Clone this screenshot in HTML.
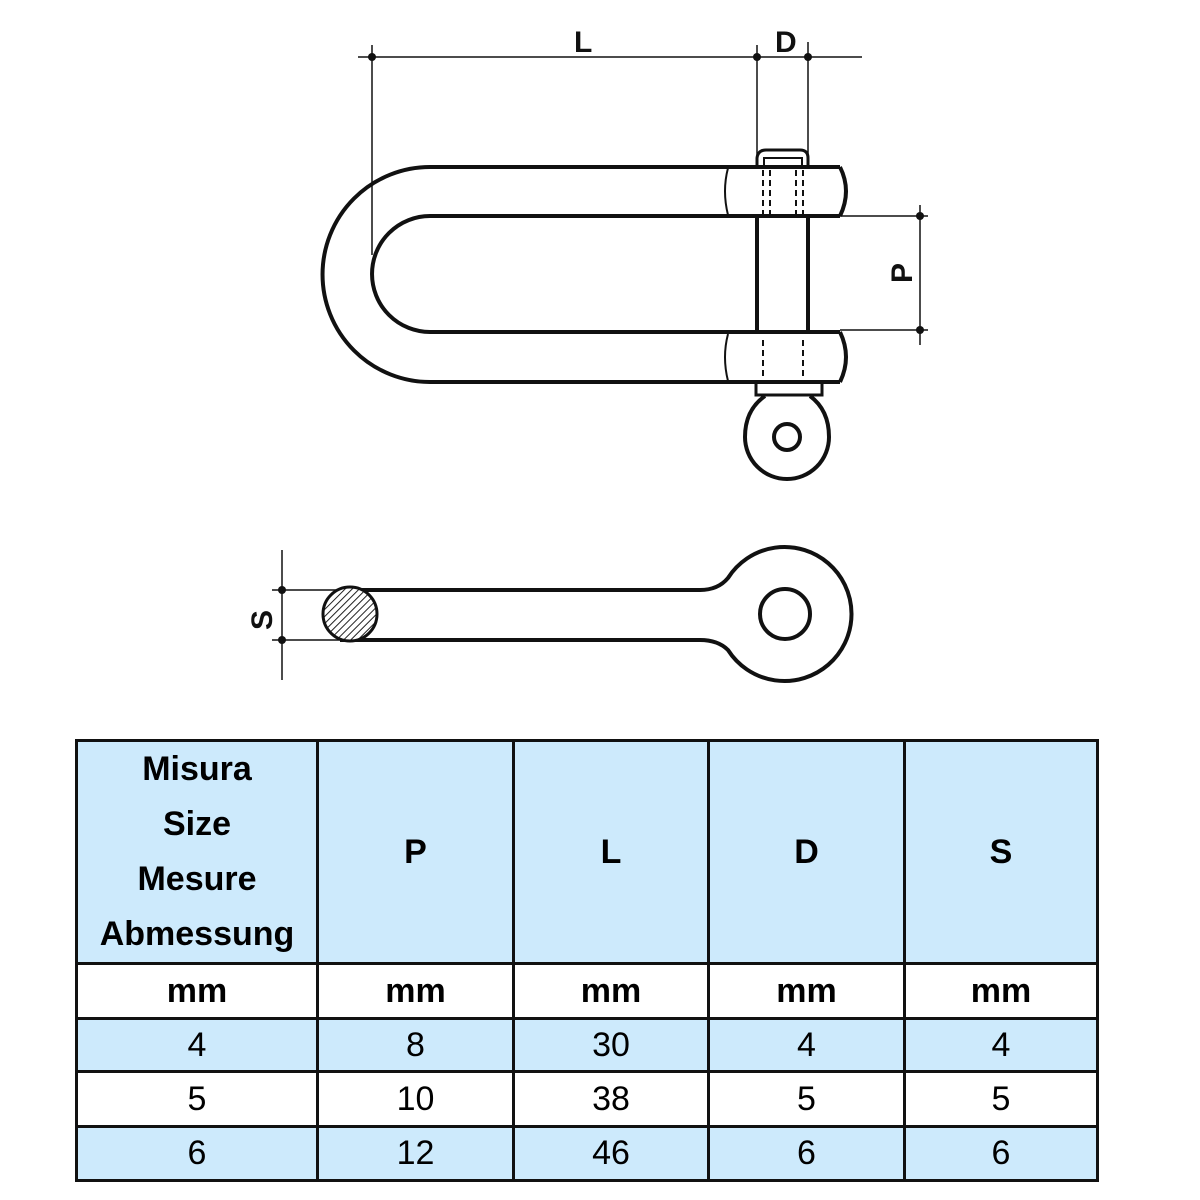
<!DOCTYPE html>
<html><head><style>
body{margin:0;background:#fff;width:1200px;height:1200px;position:relative;font-family:"Liberation Sans",sans-serif;}
table{position:absolute;left:75px;top:739px;border-collapse:collapse;width:1021px;table-layout:fixed;}
td{border:3px solid #111;text-align:center;font-size:34px;padding:0;}
.b{background:#cdeafc;}
.h td{font-weight:bold;}
</style></head><body>
<svg width="1200" height="720" style="position:absolute;left:0;top:0" xmlns="http://www.w3.org/2000/svg">
<defs><pattern id="hatch" width="5" height="5" patternUnits="userSpaceOnUse" patternTransform="rotate(45)"><rect width="5" height="5" fill="#fff"/><line x1="0" y1="0" x2="0" y2="5" stroke="#222" stroke-width="2"/></pattern></defs>
<g fill="none" stroke="#111" stroke-width="4">
<path d="M840 167 L430 167 A107 107 0 0 0 430 382 L840 382"/>
<path d="M840 216 L430 216 A58 58 0 0 0 430 332 L840 332"/>
<path d="M840 167 Q852 191 840 216"/>
<path d="M840 332 Q852 357 840 382"/>
<path d="M728 168 Q722 191 728 215 M728 334 Q722 357 728 381" stroke-width="2"/>
<path d="M757 216 L757 332 M808 216 L808 332"/>
<path d="M757 167 L757 158 Q758 150 766 150 L800 150 Q808 150 808 158 L808 167" stroke-width="3"/>
<path d="M764 167 L764 158 L802 158 L802 167" stroke-width="2"/>
<path d="M763 170 L763 214 M770 170 L770 214 M796 170 L796 214 M803 170 L803 214 M763 340 L763 380 M803 340 L803 380" stroke-width="2" stroke-dasharray="6 4"/>
<path d="M756 382 L756 395 L822 395 L822 382" stroke-width="3"/>
<path d="M765 396 Q745 410 745 437 A42 42 0 0 0 829 437 Q829 410 810 396"/>
<circle cx="787" cy="437" r="13"/>
</g>
<g stroke="#111" stroke-width="1.5" fill="none">
<line x1="358" y1="57" x2="862" y2="57"/>
<line x1="372" y1="45" x2="372" y2="255"/>
<line x1="757" y1="45" x2="757" y2="167"/>
<line x1="808" y1="42" x2="808" y2="167"/>
<line x1="920" y1="205" x2="920" y2="345"/>
<line x1="840" y1="216" x2="928" y2="216"/>
<line x1="840" y1="330" x2="928" y2="330"/>
<line x1="282" y1="550" x2="282" y2="680"/>
<line x1="272" y1="590" x2="340" y2="590"/>
<line x1="272" y1="640" x2="340" y2="640"/>
</g>
<g fill="#111"><circle cx="372" cy="57" r="4"/><circle cx="757" cy="57" r="4"/><circle cx="808" cy="57" r="4"/><circle cx="920" cy="216" r="4"/><circle cx="920" cy="330" r="4"/><circle cx="282" cy="590" r="4"/><circle cx="282" cy="640" r="4"/></g>
<g font-family="Liberation Sans" font-weight="bold" font-size="30" fill="#111">
<text x="574" y="52">L</text><text x="775" y="52">D</text>
<text transform="translate(912,273) rotate(-90)" text-anchor="middle">P</text>
<text transform="translate(272,620) rotate(-90)" text-anchor="middle">S</text>
</g>
<g fill="none" stroke="#111" stroke-width="4">
<path d="M340 590 L700 590 Q718 590 728 578 A67 67 0 1 1 728 650 Q718 640 700 640 L340 640"/>
<circle cx="785" cy="614" r="25"/>
</g>
<circle cx="350" cy="614" r="27" fill="url(#hatch)" stroke="#111" stroke-width="3"/>
</svg>
<table>
<colgroup><col style="width:241px"><col style="width:196px"><col style="width:195px"><col style="width:196px"><col style="width:193px"></colgroup>
<tr class="h b" style="height:217px"><td style="line-height:55px">Misura<br>Size<br>Mesure<br>Abmessung</td><td>P</td><td>L</td><td>D</td><td>S</td></tr>
<tr class="h" style="height:55px"><td>mm</td><td>mm</td><td>mm</td><td>mm</td><td>mm</td></tr>
<tr class="b" style="height:53px"><td>4</td><td>8</td><td>30</td><td>4</td><td>4</td></tr>
<tr style="height:55px"><td>5</td><td>10</td><td>38</td><td>5</td><td>5</td></tr>
<tr class="b" style="height:54px"><td>6</td><td>12</td><td>46</td><td>6</td><td>6</td></tr>
</table>
</body></html>
